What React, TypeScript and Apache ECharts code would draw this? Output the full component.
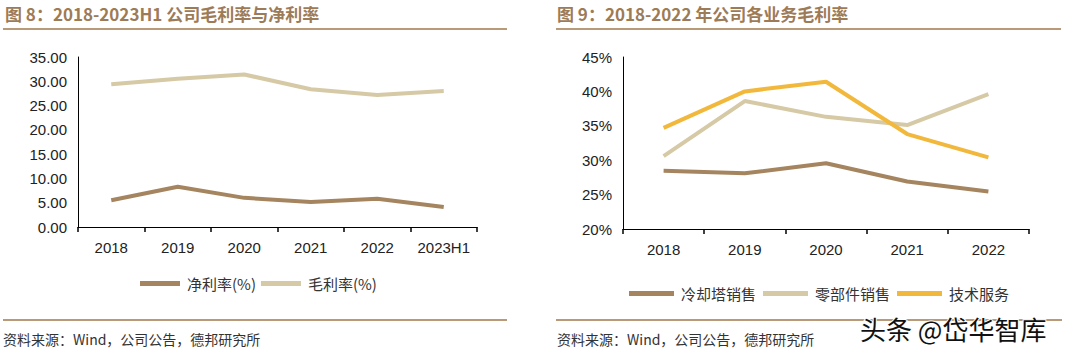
import React, { useEffect, useRef } from "react";
import * as echarts from "echarts";

const leftCategories = ["2018", "2019", "2020", "2021", "2022", "2023H1"];
const netMargin = [5.5, 8.3, 6.0, 5.15, 5.8, 4.1];
const grossMargin = [29.4, 30.5, 31.4, 28.35, 27.2, 28.0];
const leftTicks = { min: 0, max: 35, interval: 5 };

const rightCategories = ["2018", "2019", "2020", "2021", "2022"];
const coolingTower = [28.45, 28.1, 29.55, 26.9, 25.45];
const parts = [30.6, 38.6, 36.3, 35.1, 39.6];
const techService = [34.7, 40.0, 41.4, 33.8, 30.4];
const rightTicks = { min: 20, max: 45, interval: 5 };

const leftTitle = "图 8：2018-2023H1 公司毛利率与净利率";
const rightTitle = "图 9：2018-2022 年公司各业务毛利率";
const sourceText = "资料来源：Wind，公司公告，德邦研究所";
const watermark = "头条 @岱华智库";

const C_BROWN = "#a5855f";
const C_BEIGE = "#d6c9a6";
const C_ORANGE = "#f1b83c";
const C_TITLE = "#9d7b57";
const C_RULE = "#b99a78";

export default function App() {
  const ref = useRef<HTMLDivElement>(null);
  useEffect(() => {
    document.body.style.margin = "0";
    const chart = echarts.init(ref.current!, null, { renderer: "svg" });
    const font = "Liberation Sans, Arial, Noto Sans CJK SC, sans-serif";
    const axisLabel = { color: "#222", fontSize: 15, fontFamily: font };
    const mkX = (cats: string[], gridIndex: number) => ({
      type: "category",
      gridIndex,
      data: cats,
      boundaryGap: true,
      axisLine: { show: true, lineStyle: { color: "#000", width: 1 } },
      axisTick: {
        show: true,
        inside: false,
        length: 5,
        interval: 0,
        lineStyle: { color: "#000", width: 1.5 },
      },
      axisLabel: { ...axisLabel, margin: 13, interval: 0 },
      splitLine: { show: false },
    });
    const series = (name: string, data: number[], color: string, idx: number) => ({
      type: "line",
      name,
      data,
      xAxisIndex: idx,
      yAxisIndex: idx,
      symbol: "none",
      lineStyle: { color, width: 4 },
      itemStyle: { color },
    });
    const ruleLine = (x1: number, x2: number, y: number) => ({
      type: "line",
      shape: { x1, y1: y, x2, y2: y },
      style: { stroke: C_RULE, lineWidth: 2 },
    });
    const txt = (x: number, y: number, text: string, extra: any = {}) => ({
      type: "text",
      x,
      y,
      style: {
        text,
        fill: "#333",
        fontSize: 14,
        fontFamily: "Noto Sans CJK SC, Liberation Sans, sans-serif",
        textVerticalAlign: "middle",
        ...extra,
      },
    });
    const yAxisBase = {
      type: "value",
      axisLine: { show: true, lineStyle: { color: "#000", width: 1 } },
      axisTick: { show: false },
      splitLine: { show: false },
    };
    chart.setOption({
      animation: false,
      backgroundColor: "#fff",
      grid: [
        { left: 78, top: 57, width: 399, height: 170 },
        { left: 623, top: 57, width: 406, height: 172 },
      ],
      xAxis: [mkX(leftCategories, 0), mkX(rightCategories, 1)],
      yAxis: [
        {
          ...yAxisBase,
          gridIndex: 0,
          ...leftTicks,
          axisLabel: { ...axisLabel, margin: 11, formatter: (v: number) => v.toFixed(2) },
        },
        {
          ...yAxisBase,
          gridIndex: 1,
          ...rightTicks,
          axisLabel: { ...axisLabel, margin: 11, formatter: "{value}%" },
        },
      ],
      legend: [
        {
          data: ["净利率(%)", "毛利率(%)"],
          left: 135,
          top: 271,
          icon: "rect",
          itemWidth: 40,
          itemHeight: 5,
          itemGap: 5,
          textStyle: { color: "#333", fontSize: 15, fontFamily: "Noto Sans CJK SC, sans-serif", padding: [0, 0, 0, 2] },
        },
        {
          data: ["冷却塔销售", "零部件销售", "技术服务"],
          left: 624,
          top: 281,
          icon: "rect",
          itemWidth: 45,
          itemHeight: 5,
          itemGap: 7,
          textStyle: { color: "#333", fontSize: 15, fontFamily: "Noto Sans CJK SC, sans-serif", padding: [0, 0, 0, 2] },
        },
      ],
      series: [
        series("净利率(%)", netMargin, C_BROWN, 0),
        series("毛利率(%)", grossMargin, C_BEIGE, 0),
        series("冷却塔销售", coolingTower, C_BROWN, 1),
        series("零部件销售", parts, C_BEIGE, 1),
        series("技术服务", techService, C_ORANGE, 1),
      ],
      graphic: [
        txt(5, 13, leftTitle, { fill: C_TITLE, fontSize: 17, fontWeight: "bold" }),
        txt(557, 13, rightTitle, { fill: C_TITLE, fontSize: 17, fontWeight: "bold" }),
        ruleLine(3, 507, 29),
        ruleLine(556, 1061, 29),
        ruleLine(3, 507, 320),
        ruleLine(556, 1062, 320),
        txt(3, 339, sourceText),
        txt(557, 339, sourceText),
        txt(860, 328, watermark, {
          fill: "#111",
          fontSize: 26,
          stroke: "#fff",
          lineWidth: 2,
        }),
      ],
    });
    return () => chart.dispose();
  }, []);
  return (
    <div
      ref={ref}
      style={{ width: 1080, height: 356, position: "absolute", left: 0, top: 0 }}
    />
  );
}
